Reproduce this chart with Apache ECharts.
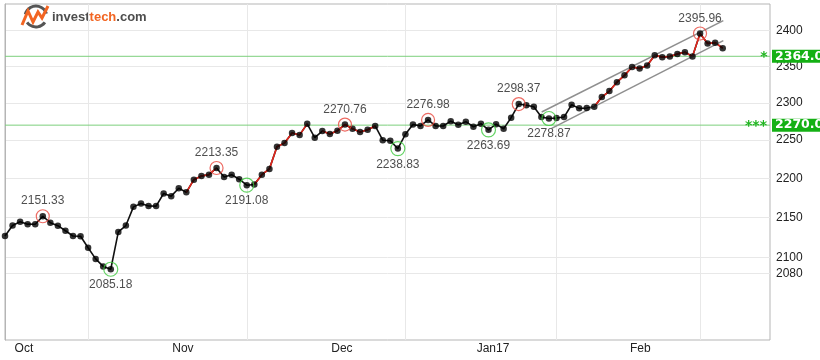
<!DOCTYPE html>
<html><head><meta charset="utf-8">
<script src="https://cdn.jsdelivr.net/npm/echarts@6/dist/echarts.min.js"></script>
<style>html,body{margin:0;padding:0;background:#fff}#c{width:820px;height:360px}</style>
</head><body><div id="c"></div>
<script>
// trading days (index on the x axis)
const dates = ['2016-10-17','2016-10-18','2016-10-19','2016-10-20','2016-10-21','2016-10-24','2016-10-25','2016-10-26','2016-10-27','2016-10-28','2016-10-31',
'2016-11-01','2016-11-02','2016-11-03','2016-11-04','2016-11-07','2016-11-08','2016-11-09','2016-11-10','2016-11-11','2016-11-14','2016-11-15','2016-11-16','2016-11-17','2016-11-18','2016-11-21','2016-11-22','2016-11-23','2016-11-25','2016-11-28','2016-11-29','2016-11-30',
'2016-12-01','2016-12-02','2016-12-05','2016-12-06','2016-12-07','2016-12-08','2016-12-09','2016-12-12','2016-12-13','2016-12-14','2016-12-15','2016-12-16','2016-12-19','2016-12-20','2016-12-21','2016-12-22','2016-12-23','2016-12-27','2016-12-28','2016-12-29','2016-12-30',
'2017-01-03','2017-01-04','2017-01-05','2017-01-06','2017-01-09','2017-01-10','2017-01-11','2017-01-12','2017-01-13','2017-01-17','2017-01-18','2017-01-19','2017-01-20','2017-01-23','2017-01-24','2017-01-25','2017-01-26','2017-01-27','2017-01-30','2017-01-31',
'2017-02-01','2017-02-02','2017-02-03','2017-02-06','2017-02-07','2017-02-08','2017-02-09','2017-02-10','2017-02-13','2017-02-14','2017-02-15','2017-02-16','2017-02-17','2017-02-21','2017-02-22','2017-02-23','2017-02-24','2017-02-27','2017-02-28',
'2017-03-01','2017-03-02','2017-03-03','2017-03-06'];
const closes = [2126.50,2139.60,2144.29,2141.34,2141.16,2151.33,2143.16,2139.43,2133.04,2126.41,2126.15,
2111.72,2097.94,2088.66,2085.18,2131.52,2139.56,2163.26,2167.48,2164.45,2164.20,2180.39,2176.94,2187.12,2181.90,2198.18,2202.94,2204.72,2213.35,2201.72,2204.66,2198.81,
2191.08,2191.95,2204.71,2212.23,2241.35,2246.19,2259.53,2256.96,2271.72,2253.28,2262.03,2258.07,2262.53,2270.76,2265.18,2260.96,2263.79,2268.88,2249.92,2249.26,2238.83,
2257.83,2270.75,2269.00,2276.98,2268.90,2268.90,2275.32,2270.44,2274.64,2267.89,2271.89,2263.69,2271.31,2265.20,2280.07,2298.37,2296.68,2294.69,2280.90,2278.87,
2279.55,2280.85,2297.42,2292.56,2293.08,2294.67,2307.87,2316.10,2328.25,2337.58,2349.25,2347.22,2351.16,2365.38,2362.82,2363.81,2367.34,2369.75,2363.64,
2395.96,2381.92,2383.12,2375.31];
const peakIdx = [5, 28, 45, 56, 68, 92];
const troughIdx = [14, 32, 52, 64, 72];
const redRuns = [[24, 28], [33, 40], [42, 49], [78, 95]];
const monthStarts = [11, 32, 53, 73, 92];
const monthLabels = ['Oct', 'Nov', 'Dec', 'Jan17', 'Feb'];
const monthLabelPos = [2.5, 23.55, 44.6, 64.6, 84.1];
const yTicks = [2080, 2100, 2150, 2200, 2250, 2300, 2350, 2400];
const channelUpper = [[71.04, 2287.7], [95.08, 2414.2]];
const channelLower = [[72.36, 2265.6], [95.08, 2386.0]];
const levelValues = [2364.0, 2270.0];
const levelStars = ['*', '***'];

const FONT = "'Liberation Sans', Arial, sans-serif";
const X_MAX = 101.26;
const inRun = i => redRuns.some(r => i >= r[0] && i <= r[1]);
const pts = closes.map((v, i) => [i, v]);
const redPts = closes.map((v, i) => inRun(i) ? [i, v] : [i, '-']);
const pk = peakIdx.map(i => [i, closes[i]]);
const tr = troughIdx.map(i => [i, closes[i]]);

const levelSeries = levelValues.map((v, k) => ({
  type: 'line', symbol: 'none', z: 1, silent: true,
  data: [[0, v], [X_MAX, v]],
  lineStyle: {color: '#7dd07d', width: 1},
  endLabel: {show: true, distance: 0, offset: [-(levelStars[k].length * 8 + 4), 0],
    formatter: '{s|' + levelStars[k] + '}{b|' + v.toFixed(1) + '}',
    rich: {
      s: {color: '#1fb41f', fontWeight: 'bold', fontSize: 14, fontFamily: 'DejaVu Sans', width: levelStars[k].length * 8 + 4, align: 'right', padding: [3, 2, 0, 0]},
      b: {color: '#fff', backgroundColor: '#14b014', fontWeight: 'bold', fontSize: 12.5, fontFamily: 'DejaVu Sans', lineHeight: 14, padding: [0, 20, 0, 3]}
    }}
}));

const chart = echarts.init(document.getElementById('c'), null, {renderer: 'canvas'});
chart.setOption({
  animation: false,
  backgroundColor: '#fff',
  textStyle: {fontFamily: FONT},
  grid: {left: 5, right: 50, top: 4, bottom: 20, show: true, borderColor: '#b5b5b5', borderWidth: 1, backgroundColor: 'transparent'},
  xAxis: {
    type: 'value', min: 0, max: X_MAX,
    axisLine: {show: false, onZero: false},
    axisTick: {show: false, customValues: monthStarts},
    splitLine: {show: true, lineStyle: {color: '#e8e8e8', width: 1}},
    axisLabel: {
      customValues: monthLabelPos, color: '#222', fontSize: 12, margin: 3,
      formatter: v => { let b = 0; monthLabelPos.forEach((p, k) => { if (Math.abs(p - v) < Math.abs(monthLabelPos[b] - v)) b = k; }); return monthLabels[b]; }
    }
  },
  yAxis: {
    type: 'log', position: 'right', min: 2000, max: 2438,
    axisLine: {show: true, lineStyle: {color: '#b5b5b5'}},
    axisTick: {show: false, customValues: yTicks},
    splitLine: {show: true, lineStyle: {color: '#e8e8e8', width: 1}},
    axisLabel: {customValues: yTicks, color: '#222', fontSize: 12, margin: 6, formatter: v => String(Math.round(v))}
  },
  graphic: [
    {type: 'arc', shape: {cx: 36, cy: 17, r: 11, startAngle: Math.PI * 1.08, endAngle: Math.PI * 1.9}, style: {stroke: '#555', lineWidth: 3, fill: null}},
    {type: 'arc', shape: {cx: 36, cy: 16, r: 11, startAngle: Math.PI * 0.2, endAngle: Math.PI * 0.8}, style: {stroke: '#555', lineWidth: 3, fill: null}},
    {type: 'polyline', shape: {points: [[22, 25], [28, 11], [33, 22], [38, 12], [42, 18], [48, 6]]}, style: {stroke: '#f26522', lineWidth: 3, fill: null}},
    {type: 'text', x: 52, y: 17, style: {text: '{a|invest}{b|tech}{a|.com}', verticalAlign: 'middle', rich: {
      a: {fill: '#4d4d4d', font: "bold 13px 'Liberation Sans', Arial"},
      b: {fill: '#f26522', font: "bold 13px 'Liberation Sans', Arial"}}}}
  ],
  series: levelSeries.concat([
    {type: 'line', data: pts, symbol: 'none', z: 2, lineStyle: {color: '#111', width: 1.6}},
    {type: 'line', data: redPts, symbol: 'none', z: 3, connectNulls: false, lineStyle: {color: '#e3261c', width: 1.6}},
    {type: 'line', data: channelUpper, symbol: 'none', z: 3, lineStyle: {color: '#8f8f8f', width: 1.5}},
    {type: 'line', data: channelLower, symbol: 'none', z: 3, lineStyle: {color: '#8f8f8f', width: 1.5}},
    {type: 'scatter', data: pts, symbol: 'circle', symbolSize: 6.5, z: 4, itemStyle: {color: '#000'}},
    {type: 'scatter', data: pk, symbol: 'circle', symbolSize: 13, z: 5,
     itemStyle: {color: 'rgba(0,0,0,0)', borderColor: '#e8463c', borderWidth: 1.2},
     label: {show: true, position: 'top', distance: 2, color: '#222', fontSize: 12, fontFamily: FONT, formatter: p => p.value[1].toFixed(2)}},
    {type: 'scatter', data: tr, symbol: 'circle', symbolSize: 14, z: 5,
     itemStyle: {color: 'rgba(0,0,0,0)', borderColor: '#3cc83c', borderWidth: 1.2},
     label: {show: true, position: 'bottom', distance: 2, color: '#222', fontSize: 12, fontFamily: FONT, formatter: p => p.value[1].toFixed(2)}}
  ])
});
</script></body></html>
